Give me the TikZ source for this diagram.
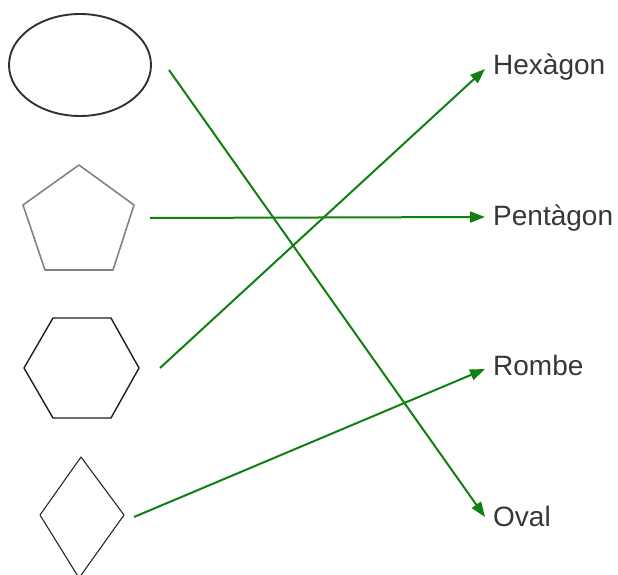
\documentclass[tikz,border=0pt]{standalone}
\usepackage{fontspec}
\setmainfont{Liberation Sans}
\usetikzlibrary{arrows.meta}
\definecolor{arrowgreen}{RGB}{16,128,16}
\definecolor{txtgray}{RGB}{55,55,55}
\tikzset{
  link/.style={draw=arrowgreen, line width=2pt, -{Triangle[length=15pt,width=11pt]}},
  lbl/.style={anchor=base west, inner sep=0pt, text=txtgray, font=\fontsize{28}{34}\selectfont},
}
\begin{document}
\begin{tikzpicture}[x=1pt,y=-1pt]
\useasboundingbox (0,0) rectangle (618,575);
\begin{scope}
\clip (0,0) rectangle (618,575);
% shapes
\draw[draw={rgb,255:red,50;green,50;blue,50}, line width=1.9pt] (80,65) ellipse [x radius=71, y radius=51];
\draw[draw={rgb,255:red,130;green,130;blue,130}, line width=1.6pt, line join=round]
  (79,165) -- (134,205) -- (113,270) -- (45,270) -- (23,205) -- cycle;
\draw[draw={rgb,255:red,30;green,30;blue,30}, line width=1.4pt, line join=round]
  (53,318) -- (111,318) -- (139,368) -- (111,418) -- (53,418) -- (24,368) -- cycle;
\draw[draw={rgb,255:red,40;green,40;blue,40}, line width=1.1pt, line join=round]
  (81,457) -- (124,515) -- (79,578) -- (40,515) -- cycle;
\end{scope}
% labels
\node[lbl] (hex) at (493,75) {Hexàgon};
\node[lbl] (pen) at (493,225) {Pentàgon};
\node[lbl] (rom) at (493,375) {Rombe};
\node[lbl] (ova) at (493,526) {Oval};
% arrow ends
\coordinate (sEll) at (169,70);
\coordinate (sPen) at (150,218);
\coordinate (sHex) at (160,368);
\coordinate (sDia) at (134,517);
\coordinate (tHex) at (485,69);
\coordinate (tPen) at (485,217);
\coordinate (tRom) at (485,369);
\coordinate (tOva) at (485,517);
\draw[link] (sEll) -- (tOva);
\draw[link] (sPen) -- (tPen);
\draw[link] (sHex) -- (tHex);
\draw[link] (sDia) -- (tRom);
\end{tikzpicture}
\end{document}
